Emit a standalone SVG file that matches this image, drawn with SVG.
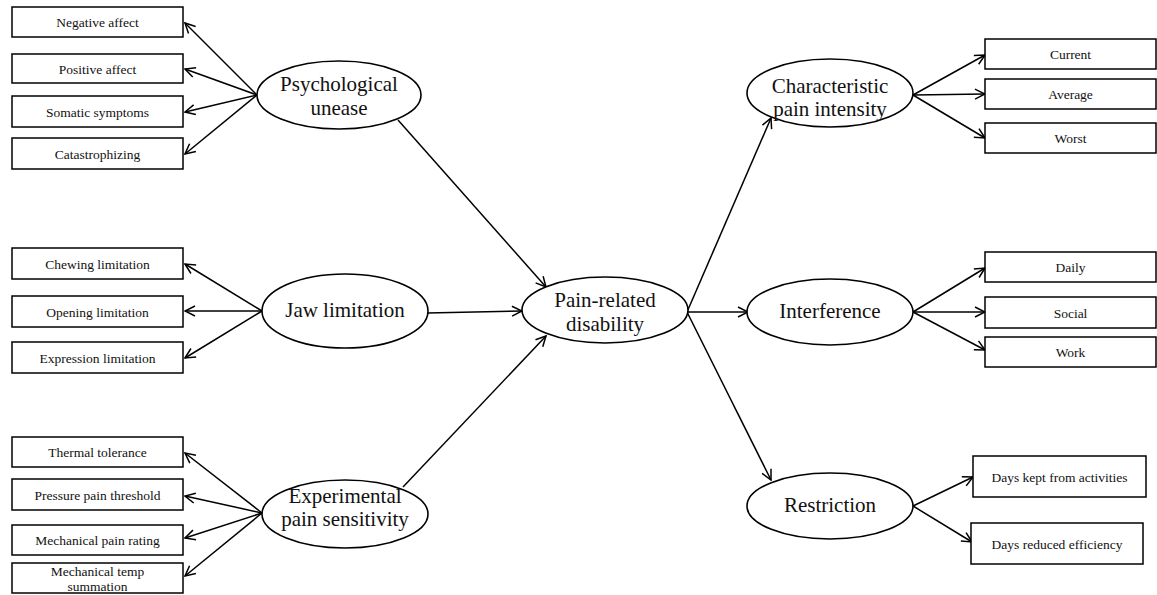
<svg xmlns="http://www.w3.org/2000/svg" width="1157" height="595" viewBox="0 0 1157 595">
<defs>
<style>
.box{fill:#fff;stroke:#000;stroke-width:1.5}
.ell{fill:#fff;stroke:#000;stroke-width:1.6}
.bt{font-family:"Liberation Serif","Times New Roman",serif;font-size:13.5px;fill:#111;text-anchor:middle}
.et{font-family:"Liberation Serif","Times New Roman",serif;font-size:21px;fill:#111;text-anchor:middle}
.con line{stroke:#000;stroke-width:1.5;marker-end:url(#ah)}
</style>
<marker id="ah" viewBox="0 0 12 12" refX="11" refY="6" markerWidth="12" markerHeight="12" orient="auto" markerUnits="userSpaceOnUse">
<path d="M1,1 L11,6 L1,11" fill="none" stroke="#000" stroke-width="1.5"/>
</marker>
</defs>
<rect width="1157" height="595" fill="#fff"/>

<g class="con" id="connectors">
<line x1="257" y1="95" x2="185" y2="23"/>
<line x1="257" y1="95" x2="185" y2="69"/>
<line x1="257" y1="95" x2="185" y2="112"/>
<line x1="257" y1="95" x2="185" y2="154"/>
<line x1="262" y1="311" x2="185" y2="264"/>
<line x1="262" y1="311" x2="185" y2="311"/>
<line x1="262" y1="311" x2="185" y2="358"/>
<line x1="262" y1="513" x2="185" y2="453"/>
<line x1="262" y1="513" x2="185" y2="496"/>
<line x1="262" y1="513" x2="185" y2="538"/>
<line x1="262" y1="513" x2="185" y2="576"/>
<line x1="398" y1="120" x2="546" y2="287"/>
<line x1="427" y1="313" x2="522" y2="311"/>
<line x1="403" y1="487" x2="546" y2="336"/>
<line x1="687" y1="312" x2="771" y2="118"/>
<line x1="687" y1="312" x2="748" y2="312"/>
<line x1="687" y1="312" x2="771" y2="480"/>
<line x1="913" y1="95" x2="985" y2="55"/>
<line x1="913" y1="95" x2="985" y2="94"/>
<line x1="913" y1="95" x2="985" y2="138"/>
<line x1="913" y1="312" x2="985" y2="268"/>
<line x1="913" y1="312" x2="985" y2="312"/>
<line x1="913" y1="312" x2="985" y2="350"/>
<line x1="913" y1="506" x2="973" y2="477"/>
<line x1="913" y1="506" x2="972" y2="542"/>
</g>

<g id="negative-affect"><rect class="box" x="12" y="7" width="171" height="30"/><text class="bt" x="97.5" y="27">Negative affect</text></g>
<g id="positive-affect"><rect class="box" x="12" y="54" width="171" height="29"/><text class="bt" x="97.5" y="73.5">Positive affect</text></g>
<g id="somatic-symptoms"><rect class="box" x="12" y="96" width="171" height="31"/><text class="bt" x="97.5" y="116.5">Somatic symptoms</text></g>
<g id="catastrophizing"><rect class="box" x="12" y="138" width="171" height="31"/><text class="bt" x="97.5" y="158.5">Catastrophizing</text></g>

<g id="chewing-limitation"><rect class="box" x="12" y="248" width="171" height="31"/><text class="bt" x="97.5" y="268.5">Chewing limitation</text></g>
<g id="opening-limitation"><rect class="box" x="12" y="296" width="171" height="31"/><text class="bt" x="97.5" y="316.5">Opening limitation</text></g>
<g id="expression-limitation"><rect class="box" x="12" y="342" width="171" height="31"/><text class="bt" x="97.5" y="362.5">Expression limitation</text></g>

<g id="thermal-tolerance"><rect class="box" x="12" y="437" width="171" height="30"/><text class="bt" x="97.5" y="457">Thermal tolerance</text></g>
<g id="pressure-pain-threshold"><rect class="box" x="12" y="479" width="171" height="31"/><text class="bt" x="97.5" y="499.5">Pressure pain threshold</text></g>
<g id="mechanical-pain-rating"><rect class="box" x="12" y="525" width="171" height="30"/><text class="bt" x="97.5" y="545">Mechanical pain rating</text></g>
<g id="mechanical-temp-summation"><rect class="box" x="12" y="563" width="171" height="30"/><text class="bt" x="97.5" y="576">Mechanical temp</text><text class="bt" x="97.5" y="591">summation</text></g>

<g id="psychological-unease"><ellipse class="ell" cx="339" cy="95" rx="82" ry="34"/><text class="et" x="339" y="91">Psychological</text><text class="et" x="339" y="115">unease</text></g>
<g id="jaw-limitation"><ellipse class="ell" cx="345" cy="311" rx="83" ry="37"/><text class="et" x="345" y="317">Jaw limitation</text></g>
<g id="experimental-pain-sensitivity"><ellipse class="ell" cx="345" cy="514" rx="83" ry="34"/><text class="et" x="345" y="503">Experimental</text><text class="et" x="345" y="526">pain sensitivity</text></g>

<g id="pain-related-disability"><ellipse class="ell" cx="605" cy="310" rx="83" ry="33"/><text class="et" x="605" y="307">Pain-related</text><text class="et" x="605" y="331">disability</text></g>

<g id="characteristic-pain-intensity"><ellipse class="ell" cx="830" cy="93" rx="83" ry="34"/><text class="et" x="830" y="93">Characteristic</text><text class="et" x="830" y="116">pain intensity</text></g>
<g id="interference"><ellipse class="ell" cx="830" cy="312" rx="83" ry="33"/><text class="et" x="830" y="318">Interference</text></g>
<g id="restriction"><ellipse class="ell" cx="830" cy="506" rx="83" ry="33"/><text class="et" x="830" y="512">Restriction</text></g>

<g id="current"><rect class="box" x="985" y="39" width="171" height="30"/><text class="bt" x="1070.5" y="59">Current</text></g>
<g id="average"><rect class="box" x="985" y="79" width="171" height="30"/><text class="bt" x="1070.5" y="99">Average</text></g>
<g id="worst"><rect class="box" x="985" y="123" width="171" height="30"/><text class="bt" x="1070.5" y="143">Worst</text></g>

<g id="daily"><rect class="box" x="985" y="252" width="171" height="30"/><text class="bt" x="1070.5" y="272">Daily</text></g>
<g id="social"><rect class="box" x="985" y="297" width="171" height="31"/><text class="bt" x="1070.5" y="317.5">Social</text></g>
<g id="work"><rect class="box" x="985" y="337" width="171" height="30"/><text class="bt" x="1070.5" y="357">Work</text></g>

<g id="days-kept-from-activities"><rect class="box" x="973" y="456" width="173" height="41"/><text class="bt" x="1059.5" y="481.5">Days kept from activities</text></g>
<g id="days-reduced-efficiency"><rect class="box" x="971" y="523" width="172" height="41"/><text class="bt" x="1057" y="548.5">Days reduced efficiency</text></g>
</svg>
